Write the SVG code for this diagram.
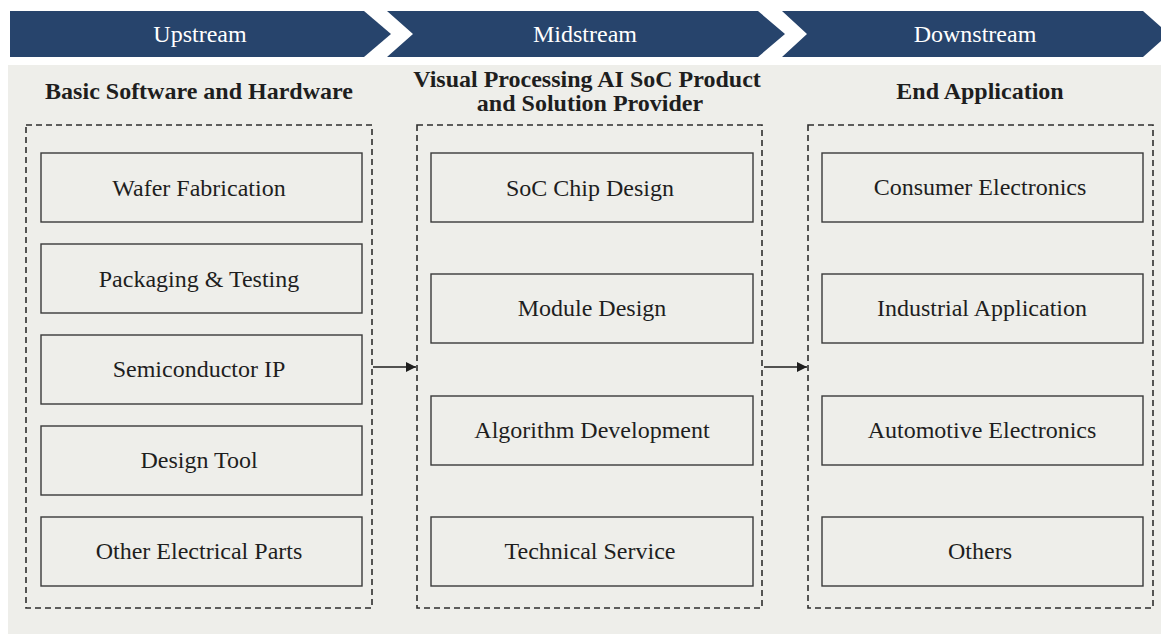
<svg xmlns="http://www.w3.org/2000/svg" width="1161" height="634" viewBox="0 0 1161 634">
<defs>
<style>
.banner{fill:#27446c}
.btxt{font-family:"Liberation Serif",serif;font-size:24px;fill:#ffffff;text-anchor:middle}
.htxt{font-family:"Liberation Serif",serif;font-size:24px;font-weight:bold;fill:#1e1e1e;text-anchor:middle}
.dash{fill:none;stroke:#2e2e2e;stroke-width:1.6;stroke-dasharray:6 4}
.box{fill:#eeeeea;stroke:#3a3a3a;stroke-width:1.4}
.ntxt{font-family:"Liberation Serif",serif;font-size:24px;fill:#1e1e1e;text-anchor:middle}
.conn{stroke:#1e1e1e;stroke-width:1.3;fill:none}
</style>
<marker id="ah" viewBox="0 0 10 10" refX="10" refY="5" markerWidth="10" markerHeight="10" markerUnits="userSpaceOnUse" orient="auto">
<path d="M0,0 L10,5 L0,10 z" fill="#1e1e1e"/>
</marker>
</defs>
<rect x="0" y="0" width="1161" height="634" fill="#ffffff"/>
<rect x="8" y="65" width="1153" height="569" fill="#eeeeea"/>
<g id="banners">
<polygon class="banner" points="10,11 364,11 391,34 364,57 10,57"/>
<polygon class="banner" points="387,11 758,11 785,34 758,57 387,57 413,34"/>
<polygon class="banner" points="782,11 1143,11 1169,34 1143,57 782,57 807,34"/>
<text class="btxt" x="200" y="42">Upstream</text>
<text class="btxt" x="585" y="42">Midstream</text>
<text class="btxt" x="975" y="42">Downstream</text>
</g>
<g id="headers">
<text class="htxt" x="199" y="99">Basic Software and Hardware</text>
<text class="htxt" x="587" y="87">Visual Processing AI SoC Product</text>
<text class="htxt" x="590" y="111">and Solution Provider</text>
<text class="htxt" x="980" y="99">End Application</text>
</g>
<g id="upstream">
<rect class="dash" x="26" y="125" width="346" height="483"/>
<g id="wafer"><rect class="box" x="41" y="153" width="321" height="69"/><text class="ntxt" x="199" y="196">Wafer Fabrication</text></g>
<g id="packaging"><rect class="box" x="41" y="244" width="321" height="69"/><text class="ntxt" x="199" y="287">Packaging &amp; Testing</text></g>
<g id="semi"><rect class="box" x="41" y="335" width="321" height="69"/><text class="ntxt" x="199" y="377">Semiconductor IP</text></g>
<g id="designtool"><rect class="box" x="41" y="426" width="321" height="69"/><text class="ntxt" x="199" y="468">Design Tool</text></g>
<g id="otherparts"><rect class="box" x="41" y="517" width="321" height="69"/><text class="ntxt" x="199" y="559">Other Electrical Parts</text></g>
</g>
<g id="midstream">
<rect class="dash" x="417" y="125" width="345" height="483"/>
<g id="soc"><rect class="box" x="431" y="153" width="322" height="69"/><text class="ntxt" x="590" y="196">SoC Chip Design</text></g>
<g id="module"><rect class="box" x="431" y="274" width="322" height="69"/><text class="ntxt" x="592" y="316">Module Design</text></g>
<g id="algo"><rect class="box" x="431" y="396" width="322" height="69"/><text class="ntxt" x="592" y="438">Algorithm Development</text></g>
<g id="tech"><rect class="box" x="431" y="517" width="322" height="69"/><text class="ntxt" x="590" y="559">Technical Service</text></g>
</g>
<g id="downstream">
<rect class="dash" x="808" y="125" width="345" height="483"/>
<g id="consumer"><rect class="box" x="822" y="153" width="321" height="69"/><text class="ntxt" x="980" y="195">Consumer Electronics</text></g>
<g id="industrial"><rect class="box" x="822" y="274" width="321" height="69"/><text class="ntxt" x="982" y="316">Industrial Application</text></g>
<g id="auto"><rect class="box" x="822" y="396" width="321" height="69"/><text class="ntxt" x="982" y="438">Automotive Electronics</text></g>
<g id="others"><rect class="box" x="822" y="517" width="321" height="69"/><text class="ntxt" x="980" y="559">Others</text></g>
</g>
<g id="connectors">
<line class="conn" x1="373" y1="367" x2="416" y2="367" marker-end="url(#ah)"/>
<line class="conn" x1="764" y1="367" x2="807" y2="367" marker-end="url(#ah)"/>
</g>
</svg>
